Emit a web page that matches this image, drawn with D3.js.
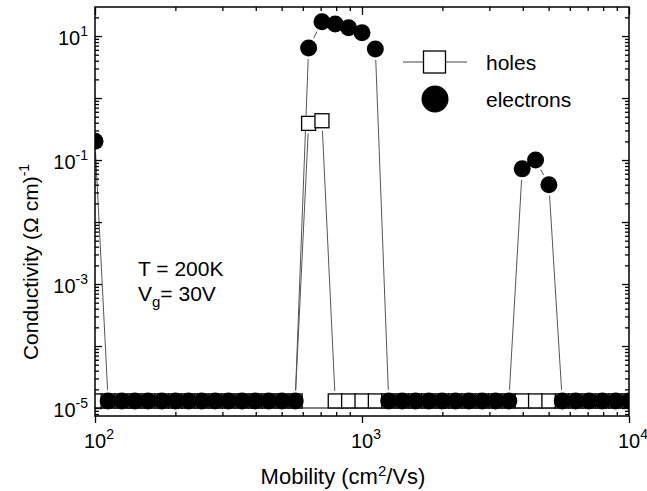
<!DOCTYPE html>
<html><head><meta charset="utf-8">
<script src="https://cdn.jsdelivr.net/npm/d3@7"></script>
<style>
body{margin:0;background:#fff}
svg{display:block}
text{font-family:"Liberation Sans",Arial,sans-serif;fill:#000}
</style>
</head><body>
<svg id="c" width="647" height="491"></svg>
<script>
// Mobility grid (cm^2/Vs)
const mobility = [100, 112, 126, 141, 158, 178, 200, 224, 251, 282, 316, 355, 398, 447, 501, 562, 631, 708, 794, 891,
  1000, 1122, 1259, 1413, 1585, 1778, 1995, 2239, 2512, 2818, 3162, 3548, 3981, 4467, 5012, 5623, 6310, 7079, 7943, 8913, 10000];
// Conductivity (Ohm cm)^-1
const electrons = [0.2, 1.3e-5, 1.3e-5, 1.3e-5, 1.3e-5, 1.3e-5, 1.3e-5, 1.3e-5, 1.3e-5, 1.3e-5, 1.3e-5, 1.3e-5, 1.3e-5, 1.3e-5, 1.3e-5, 1.3e-5,
  6.4, 17, 15.6, 13.6, 11.3, 6.2,
  1.3e-5, 1.3e-5, 1.3e-5, 1.3e-5, 1.3e-5, 1.3e-5, 1.3e-5, 1.3e-5, 1.3e-5, 1.3e-5,
  0.072, 0.1, 0.04,
  1.3e-5, 1.3e-5, 1.3e-5, 1.3e-5, 1.3e-5, 1.3e-5];
const holes = [1.3e-5, 1.3e-5, 1.3e-5, 1.3e-5, 1.3e-5, 1.3e-5, 1.3e-5, 1.3e-5, 1.3e-5, 1.3e-5, 1.3e-5, 1.3e-5, 1.3e-5, 1.3e-5, 1.3e-5, 1.3e-5,
  0.39, 0.43,
  1.3e-5, 1.3e-5, 1.3e-5, 1.3e-5, 1.3e-5, 1.3e-5, 1.3e-5, 1.3e-5, 1.3e-5, 1.3e-5, 1.3e-5, 1.3e-5, 1.3e-5, 1.3e-5,
  1.3e-5, 1.3e-5, 1.3e-5, 1.3e-5, 1.3e-5, 1.3e-5, 1.3e-5, 1.3e-5, 1.3e-5];
const xMajor = [100, 1000, 10000];
const xMajorExp = ["2", "3", "4"];
const yMajor = [1e1, 1e0, 1e-1, 1e-2, 1e-3, 1e-4, 1e-5];
const yLabelVals = [1e1, 1e-1, 1e-3, 1e-5];
const yLabelExp = ["1", "-1", "-3", "-5"];
const legendLabels = ["holes", "electrons"];
const annotation = ["T = 200K", "V", "g", "= 30V"];

const svg = d3.select("#c");
const L = 95, R = 629, T = 7, B = 416;
const x = d3.scaleLog().domain([100, 10000]).range([L, R]);
const y = d3.scaleLog().domain([7.43e-6, 29.4]).range([B, T]);

function minors(lo, hi) {
  const out = [];
  for (let e = lo; e < hi; e++) for (let m = 2; m <= 9; m++) out.push(m * Math.pow(10, e));
  return out;
}
const xMinor = minors(2, 4);
const yMinor = minors(-6, 2).filter(v => v >= 7.43e-6 && v <= 29.4);

svg.append("defs").append("clipPath").attr("id", "clip")
  .append("rect").attr("x", L).attr("y", T).attr("width", R - L).attr("height", B - T);

const plot = svg.append("g").attr("clip-path", "url(#clip)");

// reference line at 10^-5
plot.append("line").attr("x1", L).attr("x2", R).attr("y1", y(1e-5)).attr("y2", y(1e-5))
  .attr("stroke", "#000").attr("stroke-width", 1);

// connecting lines with gaps at the symbols
function gappedPath(vals, gap) {
  const p = d3.path();
  for (let i = 0; i < vals.length - 1; i++) {
    const x1 = x(mobility[i]), y1 = y(vals[i]), x2 = x(mobility[i + 1]), y2 = y(vals[i + 1]);
    const dx = x2 - x1, dy = y2 - y1, d = Math.hypot(dx, dy);
    if (d <= 2 * gap) continue;
    const ux = dx / d, uy = dy / d;
    p.moveTo(x1 + ux * gap, y1 + uy * gap);
    p.lineTo(x2 - ux * gap, y2 - uy * gap);
  }
  return p.toString();
}
plot.append("path").attr("d", gappedPath(holes, 10)).attr("fill", "none").attr("stroke", "#555").attr("stroke-width", 1);
plot.append("path").attr("d", gappedPath(electrons, 11)).attr("fill", "none").attr("stroke", "#555").attr("stroke-width", 1);

plot.selectAll("rect.h").data(holes).enter().append("rect").attr("class", "h")
  .attr("x", (d, i) => x(mobility[i]) - 7).attr("y", d => y(d) - 7)
  .attr("width", 14).attr("height", 14)
  .attr("fill", "#fff").attr("stroke", "#000").attr("stroke-width", 1.3);

plot.selectAll("circle.e").data(electrons).enter().append("circle").attr("class", "e")
  .attr("cx", (d, i) => x(mobility[i])).attr("cy", d => y(d)).attr("r", 8.5).attr("fill", "#000");

// Axes
function styleAxis(g) {
  g.select(".domain").remove();
  g.selectAll("line").attr("stroke", "#000").attr("stroke-width", 1.3);
}
svg.append("g").attr("transform", `translate(0,${B})`)
  .call(d3.axisBottom(x).tickValues(xMinor).tickSize(-4).tickFormat("")).call(styleAxis);
svg.append("g").attr("transform", `translate(0,${B})`)
  .call(d3.axisBottom(x).tickValues(xMajor).tickSize(7).tickFormat("")).call(styleAxis);
svg.append("g").attr("transform", `translate(0,${T})`)
  .call(d3.axisTop(x).tickValues(xMinor).tickSize(-4).tickFormat("")).call(styleAxis);
svg.append("g").attr("transform", `translate(0,${T})`)
  .call(d3.axisTop(x).tickValues(xMajor).tickSize(-8).tickFormat("")).call(styleAxis);
svg.append("g").attr("transform", `translate(${L},0)`)
  .call(d3.axisLeft(y).tickValues(yMinor).tickSize(-4).tickFormat("")).call(styleAxis);
svg.append("g").attr("transform", `translate(${L},0)`)
  .call(d3.axisLeft(y).tickValues(yMajor).tickSize(-7).tickFormat("")).call(styleAxis);
svg.append("g").attr("transform", `translate(${R},0)`)
  .call(d3.axisRight(y).tickValues(yMinor).tickSize(-4).tickFormat("")).call(styleAxis);
svg.append("g").attr("transform", `translate(${R},0)`)
  .call(d3.axisRight(y).tickValues(yMajor).tickSize(-7).tickFormat("")).call(styleAxis);

svg.append("rect").attr("x", L).attr("y", T).attr("width", R - L).attr("height", B - T)
  .attr("fill", "none").attr("stroke", "#000").attr("stroke-width", 1.5);

// tick labels
xMajor.forEach((v, i) => {
  const t = svg.append("text").attr("x", x(v) - 11).attr("y", 448).attr("font-size", 20);
  t.append("tspan").text("10");
  t.append("tspan").attr("font-size", 14).attr("dy", -9).text(xMajorExp[i]);
});
yLabelVals.forEach((v, i) => {
  const t = svg.append("text").attr("x", 88).attr("y", y(v) + 9).attr("font-size", 20).attr("text-anchor", "end");
  t.append("tspan").text("10");
  t.append("tspan").attr("font-size", 14).attr("dy", -9).text(yLabelExp[i]);
});

// axis titles
const xt = svg.append("text").attr("x", 343).attr("y", 484).attr("font-size", 22).attr("text-anchor", "middle");
xt.append("tspan").text("Mobility (cm");
xt.append("tspan").attr("font-size", 15).attr("dy", -8).text("2");
xt.append("tspan").attr("dy", 8).text("/Vs)");

const yt = svg.append("text").attr("transform", "translate(38,262) rotate(-90)").attr("font-size", 21).attr("text-anchor", "middle");
yt.append("tspan").text("Conductivity (Ω cm)");
yt.append("tspan").attr("font-size", 14).attr("dy", -9).text("-1");

// legend
svg.append("line").attr("x1", 403).attr("x2", 467).attr("y1", 62).attr("y2", 62).attr("stroke", "#444").attr("stroke-width", 1);
svg.append("rect").attr("x", 423.5).attr("y", 51).attr("width", 22).attr("height", 22)
  .attr("fill", "#fff").attr("stroke", "#000").attr("stroke-width", 1.3);
svg.append("circle").attr("cx", 435).attr("cy", 99).attr("r", 13.5).attr("fill", "#000");
svg.append("text").attr("x", 486).attr("y", 70).attr("font-size", 21).text(legendLabels[0]);
svg.append("text").attr("x", 486).attr("y", 107).attr("font-size", 21).text(legendLabels[1]);

// annotation
svg.append("text").attr("x", 138).attr("y", 276).attr("font-size", 21).text(annotation[0]);
const vg = svg.append("text").attr("x", 138).attr("y", 301).attr("font-size", 21);
vg.append("tspan").text(annotation[1]);
vg.append("tspan").attr("font-size", 15).attr("dy", 6).text(annotation[2]);
vg.append("tspan").attr("dy", -6).text(annotation[3]);
</script>
</body></html>
